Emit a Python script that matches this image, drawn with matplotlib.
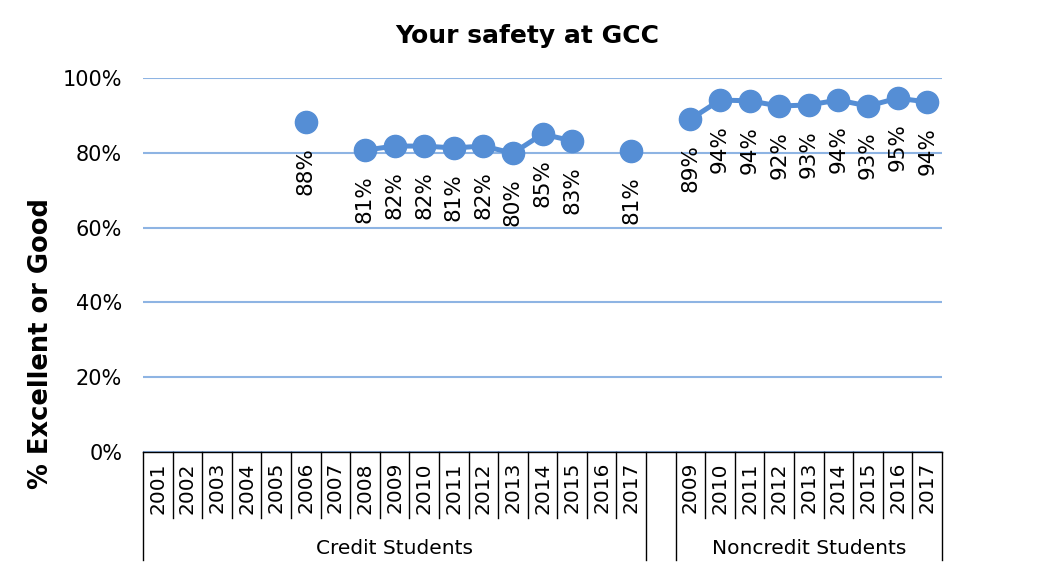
import numpy as np
import matplotlib.pyplot as plt
from matplotlib.transforms import blended_transform_factory

# data
credit_years = [str(y) for y in range(2001, 2018)]
credit_values = [np.nan, np.nan, np.nan, np.nan, np.nan, 88.2, np.nan, 80.7, 81.8, 81.8,
                 81.3, 81.8, 79.9, 85.0, 83.2, np.nan, 80.5]
credit_labels = ['', '', '', '', '', '88%', '', '81%', '82%', '82%',
                 '81%', '82%', '80%', '85%', '83%', '', '81%']

noncredit_years = [str(y) for y in range(2009, 2018)]
noncredit_values = [89.0, 94.1, 93.9, 92.5, 92.8, 94.1, 92.5, 94.6, 93.6]
noncredit_labels = ['89%', '94%', '94%', '92%', '93%', '94%', '93%', '95%', '94%']

groups = ['Credit Students', 'Noncredit Students']

blue = '#558ED5'
grid_blue = '#8EB4E3'

plt.rcParams['font.family'] = 'DejaVu Sans'

fig = plt.figure(figsize=(10.54, 5.75), dpi=100)
ax = fig.add_axes([143 / 1054, 1 - 452 / 575, 799 / 1054, 374 / 575])

# credit students take positions 0..16, then an empty slot, then noncredit
x_credit = np.arange(len(credit_years))
x_non = np.arange(len(noncredit_years)) + len(credit_years) + 1
n_slots = len(credit_years) + 1 + len(noncredit_years)

for xs, vals, labs in [(x_credit, credit_values, credit_labels),
                       (x_non, noncredit_values, noncredit_labels)]:
    ax.plot(xs, vals, color=blue, lw=3.6, marker='o', ms=16, zorder=3)
    for x, v, lab in zip(xs, vals, labs):
        if np.isnan(v):
            continue
        ax.annotate(lab, (x, v), xytext=(0, -18), textcoords='offset points',
                    rotation=90, ha='center', va='top', fontsize=15.5)

ax.set_xlim(-0.5, n_slots - 0.5)
ax.set_ylim(0, 100)
ax.set_yticks(range(0, 101, 20))
ax.set_yticklabels([f'{v}%' for v in range(0, 101, 20)], fontsize=15)
ax.tick_params(axis='y', length=0, pad=15)
ax.set_xticks([])
ax.grid(axis='y', color=grid_blue, lw=1.5)
ax.set_axisbelow(True)
for side in ['left', 'right', 'top']:
    ax.spines[side].set_visible(False)
ax.spines['bottom'].set_color('black')
ax.spines['bottom'].set_linewidth(1)

ax.set_ylabel('% Excellent or Good', fontsize=18.5, fontweight='bold')
ax.yaxis.set_label_coords(-0.112, 0.289)

# category axis drawn by hand: year labels, separators, group names
trans = blended_transform_factory(ax.transData, ax.transAxes)
for xs, years in [(x_credit, credit_years), (x_non, noncredit_years)]:
    for x, yr in zip(xs, years):
        ax.text(x, -0.027, yr, rotation=90, ha='center', va='top', fontsize=14.5,
                transform=trans)
    for b in xs[1:] - 0.5:
        ax.plot([b, b], [0, -0.176], color='black', lw=1, transform=trans, clip_on=False)
    ax.plot([xs[0] - 0.5] * 2, [0, -0.289], color='black', lw=1, transform=trans, clip_on=False)
    ax.plot([xs[-1] + 0.5] * 2, [0, -0.289], color='black', lw=1, transform=trans, clip_on=False)

for xs, name in zip([x_credit, x_non], groups):
    ax.text(xs.mean(), -0.257, name, ha='center', va='center', fontsize=14.5, transform=trans)

fig.text(0.5, 1 - 36 / 575, 'Your safety at GCC', ha='center', va='center',
         fontsize=18, fontweight='bold')

fig.savefig('out.png', dpi=100, facecolor='white')
